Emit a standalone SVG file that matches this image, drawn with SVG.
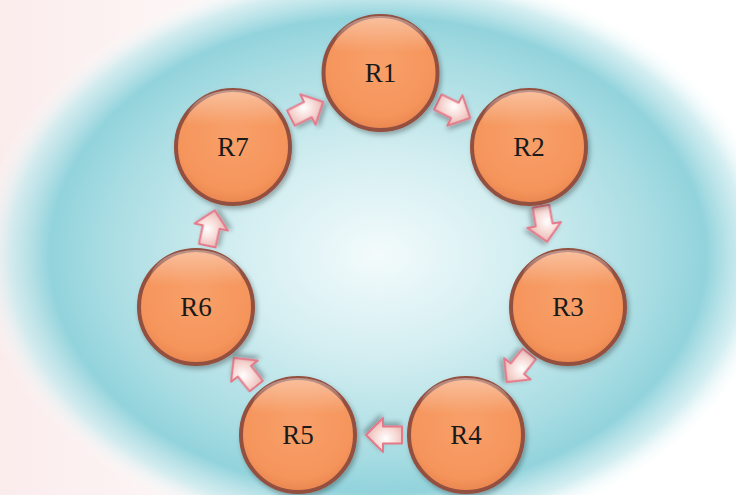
<svg xmlns="http://www.w3.org/2000/svg" width="736" height="495" viewBox="0 0 736 495">
<defs>
  <linearGradient id="bgBase" x1="0" y1="0" x2="1" y2="0">
    <stop offset="0" stop-color="#fbecec"/>
    <stop offset="0.5" stop-color="#ffffff"/>
    <stop offset="1" stop-color="#ffffff"/>
  </linearGradient>
  <radialGradient id="halo" cx="0.5" cy="0.5" r="0.5">
    <stop offset="0" stop-color="#f3fbfc"/>
    <stop offset="0.35" stop-color="#d3eef1"/>
    <stop offset="0.68" stop-color="#a9dde3"/>
    <stop offset="0.82" stop-color="#92d3dc"/>
    <stop offset="0.92" stop-color="#c9eaee" stop-opacity="0.8"/>
    <stop offset="1" stop-color="#ffffff" stop-opacity="0"/>
  </radialGradient>
  <radialGradient id="ball" cx="0.5" cy="0.4" r="0.6">
    <stop offset="0" stop-color="#f8a06a"/>
    <stop offset="0.8" stop-color="#f5955c"/>
    <stop offset="1" stop-color="#ea8650"/>
  </radialGradient>
  <linearGradient id="gloss" x1="0" y1="0" x2="0" y2="1">
    <stop offset="0" stop-color="#ffffff" stop-opacity="0.4"/>
    <stop offset="0.6" stop-color="#ffffff" stop-opacity="0"/>
  </linearGradient>
  <radialGradient id="arrowFill" cx="0.45" cy="0.4" r="0.65">
    <stop offset="0" stop-color="#ffffff"/>
    <stop offset="0.5" stop-color="#f6d6d2"/>
    <stop offset="1" stop-color="#e0aaa6"/>
  </radialGradient>
  <filter id="shadow" x="-20%" y="-20%" width="140%" height="140%">
    <feDropShadow dx="2" dy="3" stdDeviation="2.5" flood-color="#000000" flood-opacity="0.3"/>
  </filter>
  <polygon id="arr" points="-18,-8.5 1,-8.5 1,-17 18,0 1,17 1,8.5 -18,8.5"/>
</defs>
<style>
  .node circle.body { fill: url(#ball); stroke: #93503f; stroke-width: 4; filter: url(#shadow); }
  .node ellipse.gl { fill: url(#gloss); }
  .node text { font-family: "Liberation Serif", "Times New Roman", serif; font-size: 27px; fill: #1a1a1a; text-anchor: middle; }
  #connectors use { fill: url(#arrowFill); stroke: #e5798a; stroke-width: 2; stroke-linejoin: round; filter: url(#shadow); }
</style>

<rect x="0" y="0" width="736" height="495" fill="url(#bgBase)"/>
<ellipse cx="378" cy="255" rx="400" ry="290" fill="url(#halo)"/>

<g id="connectors">
  <use href="#arr" transform="translate(307,110) rotate(-26.7)"/>
  <use href="#arr" transform="translate(454,110) rotate(26.4)"/>
  <use href="#arr" transform="translate(544,224) rotate(80)"/>
  <use href="#arr" transform="translate(518,368) rotate(128.6)"/>
  <use href="#arr" transform="translate(384,435) rotate(180)"/>
  <use href="#arr" transform="translate(245,372) rotate(231.4)"/>
  <use href="#arr" transform="translate(211,228) rotate(-78)"/>
</g>

<g id="R1" class="node">
  <circle class="body" cx="380.5" cy="73" r="57"/>
  <ellipse class="gl" cx="380.5" cy="46" rx="46" ry="30"/>
  <text x="380.5" y="82">R1</text>
</g>
<g id="R2" class="node">
  <circle class="body" cx="529" cy="147" r="57"/>
  <ellipse class="gl" cx="529" cy="120" rx="46" ry="30"/>
  <text x="529" y="156">R2</text>
</g>
<g id="R3" class="node">
  <circle class="body" cx="568" cy="307" r="57"/>
  <ellipse class="gl" cx="568" cy="280" rx="46" ry="30"/>
  <text x="568" y="316">R3</text>
</g>
<g id="R4" class="node">
  <circle class="body" cx="466" cy="435" r="57"/>
  <ellipse class="gl" cx="466" cy="408" rx="46" ry="30"/>
  <text x="466" y="444">R4</text>
</g>
<g id="R5" class="node">
  <circle class="body" cx="298" cy="435" r="57"/>
  <ellipse class="gl" cx="298" cy="408" rx="46" ry="30"/>
  <text x="298" y="444">R5</text>
</g>
<g id="R6" class="node">
  <circle class="body" cx="196" cy="307" r="57"/>
  <ellipse class="gl" cx="196" cy="280" rx="46" ry="30"/>
  <text x="196" y="316">R6</text>
</g>
<g id="R7" class="node">
  <circle class="body" cx="233" cy="147" r="57"/>
  <ellipse class="gl" cx="233" cy="120" rx="46" ry="30"/>
  <text x="233" y="156">R7</text>
</g>
</svg>
